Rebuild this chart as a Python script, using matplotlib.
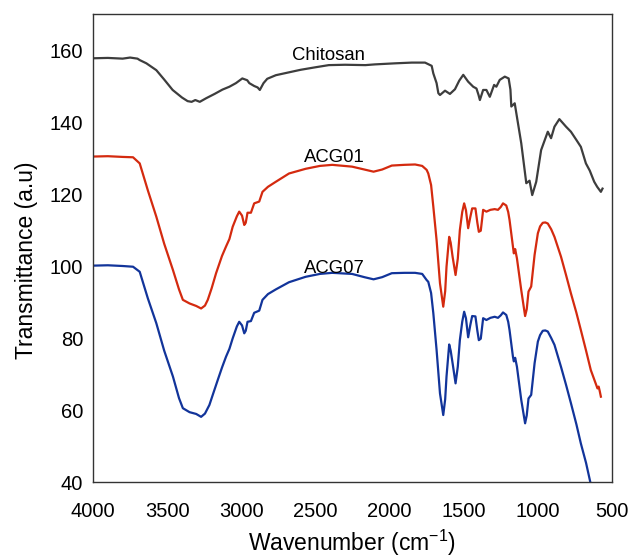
import matplotlib
matplotlib.use("Agg")
import matplotlib.pyplot as plt

plt.rcParams['font.family'] = ['Liberation Sans', 'DejaVu Sans']
plt.rcParams['mathtext.fontset'] = 'custom'
plt.rcParams['mathtext.rm'] = 'Liberation Sans'
plt.rcParams['mathtext.it'] = 'Liberation Sans:italic'

# ---------------- data ----------------
chitosan_wn = [4000, 3900, 3800, 3750, 3700, 3685, 3640, 3573, 3520, 3463, 3400, 3362, 3335, 3310,
               3280, 3237, 3180, 3127, 3080, 3036, 2993, 2960, 2946, 2913, 2890, 2875, 2850, 2825,
               2767, 2678, 2600, 2500, 2410, 2300, 2163, 2100, 1962, 1850, 1761, 1716, 1705, 1683,
               1671, 1660, 1626, 1593, 1559, 1530, 1503, 1470, 1436, 1414, 1400, 1391, 1380, 1369,
               1347, 1324, 1295, 1280, 1257, 1223, 1197, 1185, 1179, 1156, 1145, 1112, 1078, 1056,
               1038, 1011, 978, 933, 911, 888, 855, 810, 777, 740, 710, 676, 650, 620, 600, 575, 564]
chitosan_t = [157.7, 157.8, 157.6, 157.9, 157.6, 157.2, 156.3, 154.4, 151.8, 148.9, 146.8, 145.8, 145.6, 146.1,
              145.6, 146.6, 147.8, 149.0, 149.8, 150.8, 152.1, 151.6, 150.8, 150.0, 149.6, 148.9, 150.8, 152.0,
              153.0, 153.8, 154.5, 155.2, 155.8, 155.9, 155.8, 156.0, 156.3, 156.5, 156.5, 155.6, 153.5, 150.8,
              148.0, 147.5, 148.7, 147.8, 149.1, 151.5, 153.1, 151.2, 149.8, 149.3, 147.5, 146.1, 147.5, 148.9,
              148.9, 147.0, 150.3, 149.8, 151.7, 152.6, 152.1, 149.0, 144.3, 145.2, 142.4, 134.1, 123.0, 123.7,
              119.7, 123.4, 132.2, 137.3, 135.5, 138.7, 140.8, 138.7, 137.3, 135.0, 133.1, 128.5, 126.5, 123.4,
              122.0, 120.6, 121.5]

acg01_wn = [4000, 3900, 3800, 3730, 3685, 3630, 3573, 3520, 3461, 3420, 3394, 3349, 3304, 3271, 3245,
            3226, 3200, 3170, 3130, 3103, 3080, 3058, 3030, 3014, 2995, 2980, 2970, 2958, 2935, 2913,
            2879, 2857, 2820, 2767, 2678, 2566, 2470, 2387, 2253, 2170, 2108, 2050, 1985, 1900, 1828,
            1780, 1750, 1739, 1720, 1705, 1683, 1660, 1638, 1625, 1616, 1598, 1588, 1575, 1555, 1540,
            1526, 1510, 1497, 1485, 1470, 1456, 1443, 1421, 1408, 1398, 1385, 1376, 1369, 1347, 1320,
            1291, 1269, 1250, 1235, 1213, 1200, 1191, 1168, 1162, 1153, 1141, 1112, 1086, 1075, 1063,
            1045, 1022, 1000, 985, 967, 950, 933, 910, 888, 844, 810, 777, 740, 710, 675, 643, 620,
            598, 590, 583, 575]
acg01_t = [130.4, 130.5, 130.3, 130.2, 128.5, 121.0, 113.7, 106.2, 98.9, 93.5, 90.6, 89.6, 88.9, 88.2, 89.0,
           90.6, 93.8, 98.0, 102.8, 105.4, 107.5, 110.9, 113.8, 115.1, 114.0, 111.4, 112.0, 114.8, 114.8, 117.4,
           117.9, 120.6, 122.0, 123.4, 125.7, 127.0, 127.8, 128.1, 127.6, 126.8, 126.2, 126.8, 127.9, 128.1, 128.2,
           127.8, 126.7, 125.7, 122.5, 116.5, 107.2, 95.2, 88.7, 93.0, 99.8, 108.1, 106.5, 102.6, 97.5, 102.0,
           110.0, 115.0, 117.4, 115.5, 110.5, 113.5, 116.0, 116.0, 112.0, 109.5, 109.8, 113.0, 115.6, 115.1, 115.6,
           115.8, 115.6, 116.4, 117.4, 116.8, 115.0, 112.8, 105.4, 103.5, 104.7, 102.1, 93.3, 86.1, 88.0, 92.9,
           94.3, 103.1, 109.1, 111.0, 112.0, 112.1, 111.8, 110.2, 108.1, 102.6, 97.5, 92.4, 87.0, 82.2, 76.5,
           71.1, 68.5, 66.0, 66.5, 65.3, 63.7]

acg07_wn = [4000, 3900, 3800, 3730, 3685, 3630, 3573, 3520, 3461, 3420, 3394, 3349, 3304, 3271, 3245,
            3215, 3190, 3159, 3130, 3103, 3080, 3058, 3030, 3014, 2995, 2980, 2970, 2958, 2935, 2913,
            2879, 2857, 2820, 2767, 2678, 2566, 2470, 2387, 2253, 2170, 2108, 2050, 1985, 1900, 1828,
            1780, 1750, 1739, 1720, 1705, 1683, 1660, 1638, 1625, 1616, 1598, 1588, 1575, 1555, 1540,
            1526, 1510, 1497, 1485, 1470, 1456, 1443, 1421, 1408, 1398, 1385, 1376, 1369, 1347, 1320,
            1291, 1269, 1250, 1235, 1213, 1200, 1191, 1168, 1162, 1153, 1141, 1112, 1086, 1075, 1063,
            1045, 1022, 1000, 985, 967, 950, 933, 910, 888, 844, 810, 777, 740, 710, 675, 647]
acg07_t = [100.1, 100.2, 100.0, 99.8, 98.4, 91.0, 84.1, 76.5, 69.3, 63.3, 60.5, 59.4, 58.9, 58.1, 59.0,
           61.4, 64.5, 68.3, 71.8, 74.8, 77.0, 79.9, 83.2, 84.5, 83.5, 81.3, 82.0, 84.5, 84.7, 87.0,
           87.6, 90.6, 92.2, 93.5, 95.5, 97.0, 97.8, 98.1, 97.8, 96.9, 96.3, 96.9, 98.0, 98.1, 98.1,
           97.8, 96.1, 95.6, 92.5, 86.9, 76.7, 64.6, 58.6, 63.0, 69.3, 78.2, 76.5, 73.0, 67.4, 72.0,
           79.4, 84.5, 87.3, 85.5, 80.2, 83.5, 86.1, 86.0, 82.0, 79.4, 79.8, 83.0, 85.5, 85.0, 85.6,
           85.9, 85.6, 86.3, 87.1, 86.4, 84.5, 82.2, 74.8, 73.5, 74.5, 72.0, 62.8, 56.3, 58.5, 63.2,
           64.2, 73.0, 79.0, 80.8, 82.0, 82.1, 81.8, 80.0, 78.1, 72.0, 67.0, 61.9, 56.0, 50.7, 45.3, 40.1]

series_names = ["Chitosan", "ACG01", "ACG07"]
label_pos = [(2410, 157.2), (2370, 128.9), (2370, 98.1)]
x_ticks = [4000, 3500, 3000, 2500, 2000, 1500, 1000, 500]
y_ticks = [40, 60, 80, 100, 120, 140, 160]

# ---------------- plot ----------------
W, H = 633, 558
fig = plt.figure(figsize=(W / 100, H / 100), dpi=100)
ax = fig.add_axes([93 / W, 1 - 482 / H, (612 - 93) / W, (482 - 14) / H])

colors = ["#3d3d3d", "#d42a0f", "#12349a"]
for wn, t, c in zip([chitosan_wn, acg01_wn, acg07_wn], [chitosan_t, acg01_t, acg07_t], colors):
    ax.plot(wn, t, color=c, lw=1.6, solid_joinstyle='round')

for name, (xv, yv) in zip(series_names, label_pos):
    ax.text(xv, yv, name, ha='center', va='baseline', fontsize=13.3, color='black')

ax.set_xlim(4000, 500)
ax.set_ylim(40, 170)
ax.set_xticks(x_ticks)
ax.set_yticks(y_ticks)
ax.tick_params(length=0, labelsize=14.5, colors='black')
ax.tick_params(axis='x', pad=14.5)
ax.tick_params(axis='y', pad=7)
for sp in ax.spines.values():
    sp.set_color('#333333')
    sp.set_linewidth(1.0)

fig.text(27 / W, 1 - 260 / H, "Transmittance (a.u)", rotation=90, ha='center', va='center', fontsize=16.5)
fig.text(352 / W, 1 - 551 / H, r"Wavenumber (cm$^{\mathregular{-1}}$)", ha='center', va='baseline', fontsize=16.5)

fig.savefig("out.png", dpi=100)
